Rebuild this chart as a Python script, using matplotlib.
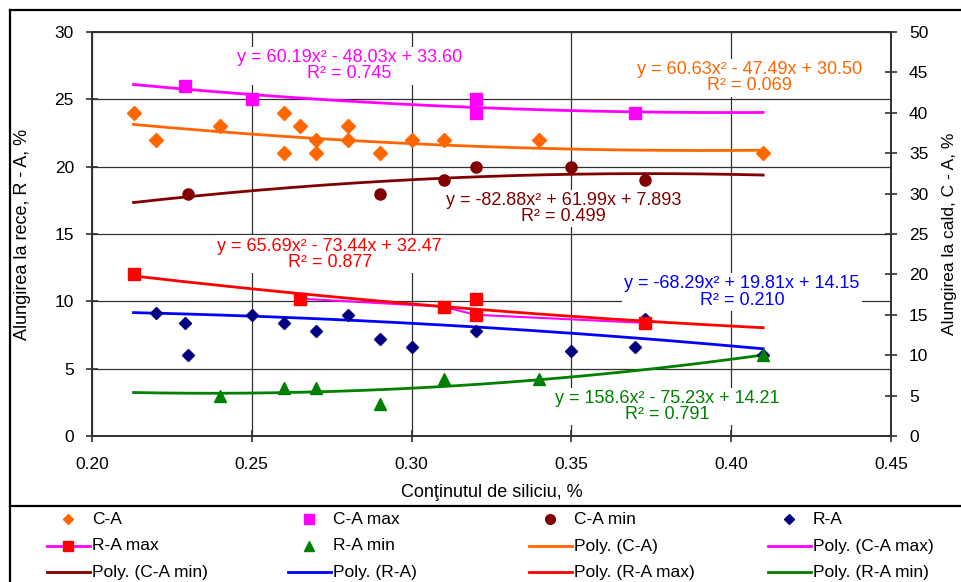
import numpy as np
import matplotlib
matplotlib.use("Agg")
import matplotlib.pyplot as plt
from matplotlib.lines import Line2D

plt.rcParams['font.family'] = ['Liberation Sans', 'DejaVu Sans']

# hot elongation C-A (left scale)
ca_x = [0.213, 0.22, 0.24, 0.26, 0.26, 0.265, 0.27, 0.27, 0.28, 0.28, 0.29, 0.30, 0.31, 0.34, 0.41]
ca_y = [24, 22, 23, 24, 21, 23, 22, 21, 23, 22, 21, 22, 22, 22, 21]
ca_max_x = [0.229, 0.25, 0.32, 0.32, 0.37]
ca_max_y = [26, 25, 25, 24, 24]
ca_min_x = [0.23, 0.29, 0.31, 0.32, 0.35, 0.373]
ca_min_y = [18, 18, 19, 20, 20, 19]

# cold elongation R-A (right scale)
ra_x = [0.22, 0.229, 0.23, 0.25, 0.26, 0.27, 0.28, 0.29, 0.30, 0.32, 0.35, 0.37, 0.373, 0.41]
ra_y = [15.2, 14, 10, 15, 14, 13, 15, 12, 11, 13, 10.5, 11, 14.5, 10]
ra_max_x = [0.213, 0.265, 0.31, 0.32, 0.32, 0.373]
ra_max_y = [20, 17, 16, 17, 15, 14]
ra_max_joined = [False, True, True, False, True, True]
ra_min_x = [0.24, 0.26, 0.27, 0.29, 0.31, 0.34, 0.41]
ra_min_y = [5, 6, 6, 4, 7, 7, 10]

# polynomial trendlines (a, b, c) and R^2
ca_fit, ca_r2 = [60.63, -47.49, 30.50], 0.069
ca_max_fit, ca_max_r2 = [60.19, -48.03, 33.60], 0.745
ca_min_fit, ca_min_r2 = [-82.88, 61.99, 7.893], 0.499
ra_fit, ra_r2 = [-68.29, 19.81, 14.15], 0.210
ra_max_fit, ra_max_r2 = [65.69, -73.44, 32.47], 0.877
ra_min_fit, ra_min_r2 = [158.6, -75.23, 14.21], 0.791

ORANGE = '#FF6600'
MAGENTA = '#FF00FF'
DARKRED = '#800000'
NAVY = '#000080'
RED = '#FF0000'
GREEN = '#008000'
BLUE = '#0000FF'


def fit_label(coef, r2):
    a, b, c = coef
    def term(v, first=False):
        s = f"{abs(v):#.4g}"
        if first:
            return ('-' if v < 0 else '') + s
        return (' - ' if v < 0 else ' + ') + s
    return f"y = {term(a, True)}x²{term(b)}x{term(c)}\nR² = {r2:.3f}"


fig = plt.figure(figsize=(9.62, 5.82), dpi=100)
ax = fig.add_axes([92 / 962, 1 - 436 / 582, 799 / 962, 404 / 582])
ax2 = ax.twinx()

all_x = ca_x + ca_max_x + ca_min_x + ra_x + ra_max_x + ra_min_x
fx = np.linspace(min(all_x), max(all_x), 200)

# trendlines
ax.plot(fx, np.polyval(ca_fit, fx), color=ORANGE, lw=2, zorder=3)
ax.plot(fx, np.polyval(ca_max_fit, fx), color=MAGENTA, lw=2, zorder=3)
ax.plot(fx, np.polyval(ca_min_fit, fx), color=DARKRED, lw=2, zorder=3)
ax2.plot(fx, np.polyval(ra_fit, fx), color=BLUE, lw=2, zorder=3)
ax2.plot(fx, np.polyval(ra_min_fit, fx), color=GREEN, lw=2, zorder=3)

# R-A max series line (magenta) under its trendline
jx = [x for x, j in zip(ra_max_x, ra_max_joined) if j]
jy = [y for y, j in zip(ra_max_y, ra_max_joined) if j]
ax2.plot(jx, jy, color=MAGENTA, lw=1.5, zorder=2)
ax2.plot(fx, np.polyval(ra_max_fit, fx), color=RED, lw=2, zorder=3)

# data points
ax.plot(ca_x, ca_y, 'D', color=ORANGE, ms=7, ls='none', zorder=4)
ax.plot(ca_max_x, ca_max_y, 's', color=MAGENTA, ms=8, ls='none', zorder=4)
ax.plot(ca_min_x, ca_min_y, 'o', color=DARKRED, ms=8, ls='none', zorder=4)
ax2.plot(ra_x, ra_y, 'D', color=NAVY, ms=6.5, ls='none', zorder=4)
ax2.plot(ra_max_x, ra_max_y, 's', color=RED, ms=8, ls='none', zorder=4)
ax2.plot(ra_min_x, ra_min_y, '^', color=GREEN, ms=8, ls='none', zorder=4)

# axes
ax.set_xlim(0.20, 0.45)
ax.set_ylim(0, 30)
ax2.set_ylim(0, 50)
ax.set_xticks(np.arange(0.20, 0.451, 0.05))
ax.set_xticklabels([f"{v:.2f}" for v in np.arange(0.20, 0.451, 0.05)])
ax.set_yticks(range(0, 31, 5))
ax2.set_yticks(range(0, 51, 5))
ax.grid(True, color='#303030', lw=0.9)
ax.set_axisbelow(True)
for a in (ax, ax2):
    for s in a.spines.values():
        s.set_color('#303030')
        s.set_linewidth(1.2)
    a.tick_params(direction='inout', length=8, width=1.2, color='#303030', labelsize=12.5)
ax.tick_params(axis='y', pad=9)
ax.tick_params(axis='x', pad=11)
ax2.tick_params(axis='y', pad=9)

ax.set_xlabel("Conţinutul de siliciu, %", fontsize=13, labelpad=9)
ax.set_ylabel("Alungirea la rece, R - A, %", fontsize=13, labelpad=17)
ax2.set_ylabel("Alungirea la cald, C - A, %", fontsize=12.5, labelpad=10)

# trendline equations
box = dict(facecolor='white', edgecolor='none', pad=1.5)
eq = [
    (ca_max_fit, ca_max_r2, MAGENTA, 0.2806, 27.5),
    (ca_fit, ca_r2, ORANGE, 0.4056, 26.6),
    (ca_min_fit, ca_min_r2, DARKRED, 0.3475, 16.9),
    (ra_max_fit, ra_max_r2, RED, 0.2744, 13.5),
    (ra_fit, ra_r2, BLUE, 0.4034, 10.7),
    (ra_min_fit, ra_min_r2, GREEN, 0.380, 2.2),
]
for coef, r2, col, tx, ty in eq:
    ax.text(tx, ty, fit_label(coef, r2), color=col, fontsize=13, ha='center', va='center',
            linespacing=0.95, bbox=box, zorder=2.5)

# outer frame and legend separator
for xs, ys in [((10, 962), (10, 10)), ((10, 10), (10, 582)), ((10, 962), (506, 506))]:
    fig.add_artist(Line2D([x / 962 for x in xs], [1 - y / 582 for y in ys],
                          color='black', lw=1.6, transform=fig.transFigure))

# legend, laid out in a 4 x 3 grid
legend_items = [
    ("C-A", dict(marker='D', color=ORANGE, ms=5.5)),
    ("C-A max", dict(marker='s', color=MAGENTA, ms=7)),
    ("C-A min", dict(marker='o', color=DARKRED, ms=7)),
    ("R-A", dict(marker='D', color=NAVY, ms=5.5)),
    ("R-A max", dict(marker='s', color=RED, ms=7, line=MAGENTA)),
    ("R-A min", dict(marker='^', color=GREEN, ms=7)),
    ("Poly. (C-A)", dict(line=ORANGE)),
    ("Poly. (C-A max)", dict(line=MAGENTA)),
    ("Poly. (C-A min)", dict(line=DARKRED)),
    ("Poly. (R-A)", dict(line=BLUE)),
    ("Poly. (R-A max)", dict(line=RED)),
    ("Poly. (R-A min)", dict(line=GREEN)),
]
col_x = [92, 333, 574, 813]
row_y = [519, 546, 572]
for i, (label, st) in enumerate(legend_items):
    tx = col_x[i % 4]
    ty = 1 - row_y[i // 4] / 582
    if 'line' in st:
        fig.add_artist(Line2D([(tx - 45) / 962, (tx - 2) / 962], [ty, ty], color=st['line'],
                              lw=2, transform=fig.transFigure))
    if 'marker' in st:
        fig.add_artist(Line2D([(tx - 24) / 962], [ty], marker=st['marker'], color=st['color'],
                              ms=st['ms'], ls='none', transform=fig.transFigure))
    fig.text(tx / 962, ty, label, fontsize=12.5, ha='left', va='center')

fig.savefig("out.png", dpi=100)
